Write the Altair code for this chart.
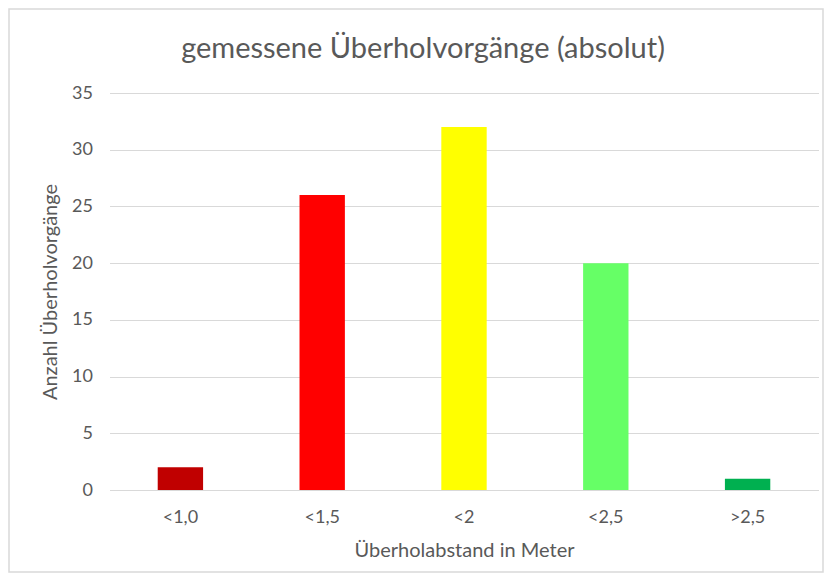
import altair as alt
import pandas as pd

categories = ["<1,0", "<1,5", "<2", "<2,5", ">2,5"]
values = [2, 26, 32, 20, 1]
colors = ["#C00000", "#FF0000", "#FFFF00", "#66FF66", "#00B050"]
title_text = ["gemessene Überholvorgänge (absolut)"]

df = pd.DataFrame({"kat": categories, "anzahl": values, "farbe": colors})
tdf = pd.DataFrame({"t": title_text})

FONT = "Lato"
GRAY = "#595959"
W, H = 709, 397
PL, PT, PR, PB = 101.5, 85, 5.5, 83

bars = alt.Chart(df).mark_bar().encode(
    x=alt.X("kat:N", sort=categories,
            scale=alt.Scale(paddingInner=0.68, paddingOuter=0.34),
            axis=alt.Axis(title="Überholabstand in Meter", labelAngle=0, ticks=False,
                          labelPadding=18, domainColor="#D9D9D9", labelColor=GRAY,
                          labelFontSize=18, labelFont=FONT, titleFont=FONT,
                          titleFontSize=20, titleFontWeight="normal", titleColor=GRAY,
                          titleY=60, titleBaseline="middle")),
    y=alt.Y("anzahl:Q", scale=alt.Scale(domain=[0, 35], nice=False),
            axis=alt.Axis(title="Anzahl Überholvorgänge", values=[0, 5, 10, 15, 20, 25, 30, 35],
                          ticks=False, domain=False, gridColor="#D9D9D9", labelPadding=17,
                          labelColor=GRAY, labelFontSize=18, labelFont=FONT, titleFont=FONT,
                          titleFontSize=20, titleFontWeight="normal", titleColor=GRAY,
                          titleX=-58.6, titleY=H / 2, titleAngle=-90,
                          titleAlign="center", titleBaseline="middle")),
    color=alt.Color("farbe:N", scale=None),
)

frame = alt.Chart(tdf).mark_rect(fill=None, stroke="#D9D9D9", strokeWidth=1.5).encode(
    x=alt.value(-PL + 1), x2=alt.value(W + PR - 1), y=alt.value(-PT + 1), y2=alt.value(H + PB - 1)
)

title = alt.Chart(tdf).mark_text(font=FONT, fontSize=29, color=GRAY, align="center",
                                 baseline="alphabetic").encode(
    text="t:N", x=alt.value(423 - 8 - PL), y=alt.value(60 - 10 - PT)
)

chart = alt.layer(frame, bars, title).properties(
    width=W, height=H,
    autosize=alt.AutoSizeParams(type="none"),
    padding={"left": PL, "top": PT, "right": PR, "bottom": PB},
).configure_view(stroke=None).configure_axis(grid=True).configure_axisX(grid=False)

chart.save("out.html", embed_options={"renderer": "svg", "actions": False})
